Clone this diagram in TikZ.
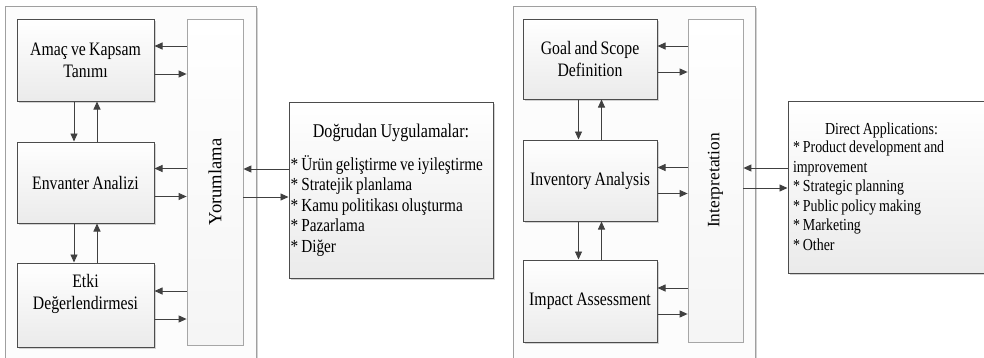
\documentclass[tikz,border=0pt]{standalone}
\usepackage{fontspec}
\usepackage{graphicx}
\setmainfont{Liberation Serif}[FakeStretch=0.83,WordSpace=0.83]
\newfontfamily\rotfont{Liberation Serif}
\usetikzlibrary{arrows.meta,calc,shadows}

\begin{document}
\begin{tikzpicture}[x=1pt,y=-1pt,
  frame/.style={draw=gray!75,line width=0.8pt,fill=gray!2,
    drop shadow={shadow xshift=2pt,shadow yshift=-2pt,fill=gray!35,opacity=1}},
  box/.style={draw=black!70,line width=1pt,top color=white,bottom color=gray!16,
    align=center,font=\fontsize{19}{22}\selectfont,
    drop shadow={shadow xshift=2pt,shadow yshift=-2pt,fill=gray!35,opacity=1}},
  bar/.style={draw=gray!70,line width=0.8pt,top color=white,bottom color=gray!8},
  arr/.style={draw=black!75,line width=0.9pt,-{Triangle[length=8pt,width=7pt]}}]
  \useasboundingbox (0,0) rectangle (984,357);

  % Turkish side
  \node[frame,minimum width=251pt,minimum height=356pt] (frL) at (130.5,184) {};
  \node[box,minimum width=137pt,minimum height=82pt] (amac) at (85.5,60) {Amaç ve Kapsam\\Tanımı};
  \node[box,minimum width=137pt,minimum height=81pt] (env) at (85.5,182.5) {Envanter Analizi};
  \node[box,minimum width=137pt,minimum height=84pt,text depth=26pt] (etki) at (85.5,305) {Etki\\Değerlendirmesi};
  \node[bar,minimum width=56pt,minimum height=326pt] (yor) at (215,182)
    {\rotatebox{90}{\rotfont\fontsize{18.6}{18.6}\selectfont Yorumlama}};
  \node[box,minimum width=204pt,minimum height=176pt,text width=201pt,inner xsep=1.5pt,
    align=flush left,font=\fontsize{18.4}{20.5}\selectfont] (uyg) at (391,190)
    {\makebox[\hsize]{\fontsize{19.4}{20.5}\selectfont Doğrudan Uygulamalar:}\\[12pt]* Ürün geliştirme ve iyileştirme\\{}* Stratejik planlama\\{}* Kamu politikası oluşturma\\{}* Pazarlama\\{}* Diğer};

  \foreach \b in {amac,env,etki}{
    \draw[arr] ($(\b.east -| yor.west)+(0,-14)$) -- ($(\b.east)+(0,-14)$);
    \draw[arr] ($(\b.east)+(0,14)$) -- ($(\b.east -| yor.west)+(0,14)$);
  }
  \foreach \a/\b in {amac/env,env/etki}{
    \draw[arr] ($(\a.south)+(-11.5,0)$) -- ($(\b.north)+(-11.5,0)$);
    \draw[arr] ($(\b.north)+(11.5,0)$) -- ($(\a.south)+(11.5,0)$);
  }
  \draw[arr] ($(uyg.west)+(0,-21)$) -- ($(uyg.west -| yor.east)+(0,-21)$);
  \draw[arr] ($(uyg.west -| yor.east)+(0,7)$) -- ($(uyg.west)+(0,7)$);

  % English side
  \node[frame,minimum width=242pt,minimum height=356pt] (frR) at (634,184) {};
  \node[box,minimum width=134pt,minimum height=80pt] (goal) at (590,59) {Goal and Scope\\Definition};
  \node[box,minimum width=134pt,minimum height=81pt] (inv) at (590,180.5) {Inventory Analysis};
  \node[box,minimum width=134pt,minimum height=82pt] (imp) at (590,301) {Impact Assessment};
  \node[bar,minimum width=55pt,minimum height=323pt] (intp) at (715.5,180.5)
    {\rotatebox{90}{\rotfont\fontsize{17.4}{17.4}\selectfont Interpretation}};
  \node[box,minimum width=212pt,minimum height=172pt,text width=202pt,inner xsep=5pt,
    align=flush left,font=\fontsize{16.8}{19.6}\selectfont] (dir) at (894,187)
    {\makebox[177pt]{Direct Applications:}\\[-2pt]* Product development and\\improvement\\{}* Strategic planning\\{}* Public policy making\\{}* Marketing\\{}* Other};

  \foreach \b in {goal,inv,imp}{
    \draw[arr] ($(\b.east -| intp.west)+(0,-13)$) -- ($(\b.east)+(0,-13)$);
    \draw[arr] ($(\b.east)+(0,13)$) -- ($(\b.east -| intp.west)+(0,13)$);
  }
  \foreach \a/\b in {goal/inv,inv/imp}{
    \draw[arr] ($(\a.south)+(-11.5,0)$) -- ($(\b.north)+(-11.5,0)$);
    \draw[arr] ($(\b.north)+(11.5,0)$) -- ($(\a.south)+(11.5,0)$);
  }
  \draw[arr] ($(dir.west)+(0,-19)$) -- ($(dir.west -| intp.east)+(0,-19)$);
  \draw[arr] ($(dir.west -| intp.east)+(0,1)$) -- ($(dir.west)+(0,1)$);
\end{tikzpicture}
\end{document}
